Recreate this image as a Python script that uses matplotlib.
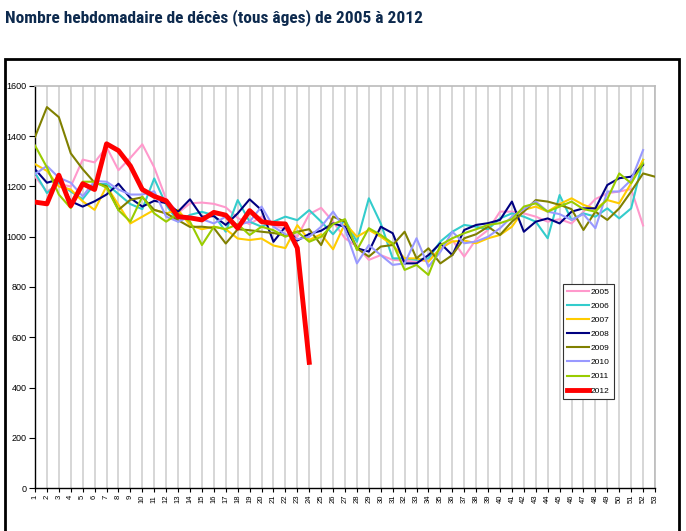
import numpy as np
import matplotlib.pyplot as plt
from matplotlib.patches import Rectangle
from matplotlib import font_manager

# weekly death counts (weeks 1..52, 2009 has 53)
d2005 = [1240, 1180, 1210, 1200, 1307, 1296, 1357, 1265, 1314, 1368, 1276, 1150, 1095,
         1133, 1136, 1131, 1117, 1075, 1050, 1080, 1045, 1030, 1000, 1090, 1115, 1060,
         994, 961, 908, 927, 908, 905, 900, 910, 950, 987, 921, 990, 1027, 1100,
         1100, 1093, 1080, 1060, 1070, 1053, 1100, 1150, 1173, 1180, 1190, 1045]
d2006 = [1255, 1174, 1215, 1180, 1150, 1210, 1210, 1170, 1130, 1110, 1232, 1127, 1060,
         1087, 1099, 1086, 1020, 1146, 1060, 1040, 1060, 1080, 1066, 1106, 1060, 1010,
         1067, 980, 1153, 1053, 914, 914, 908, 914, 981, 1020, 1047, 1040, 1030, 1073,
         1093, 1080, 1060, 994, 1166, 1067, 1093, 1080, 1113, 1073, 1113, 1306]
d2007 = [1289, 1262, 1200, 1188, 1141, 1107, 1201, 1127, 1053, 1080, 1107, 1093, 1107,
         1046, 1030, 1040, 1030, 993, 987, 993, 965, 955, 1046, 987, 1010, 950,
         1053, 1000, 1027, 1000, 967, 914, 914, 901, 954, 981, 985, 974, 994, 1007,
         1040, 1107, 1120, 1100, 1130, 1153, 1127, 1110, 1146, 1133, 1213, 1306]
d2008 = [1269, 1215, 1228, 1141, 1120, 1141, 1168, 1211, 1154, 1120, 1143, 1134, 1100,
         1149, 1080, 1082, 1047, 1093, 1149, 1106, 980, 1040, 985, 1011, 1024, 1053,
         1040, 954, 941, 1040, 1014, 894, 894, 927, 974, 927, 1027, 1047, 1054, 1067,
         1140, 1020, 1060, 1073, 1053, 1100, 1113, 1113, 1206, 1233, 1239, 1286]
d2009 = [1397, 1516, 1476, 1332, 1269, 1215, 1201, 1107, 1147, 1157, 1107, 1093, 1066,
         1039, 1040, 1035, 973, 1030, 1026, 1020, 1015, 1005, 1020, 1030, 967, 1080,
         1060, 954, 921, 961, 967, 1020, 914, 954, 894, 927, 994, 1010, 1040, 1007,
         1060, 1100, 1146, 1140, 1127, 1110, 1027, 1100, 1067, 1113, 1180, 1252, 1239]
d2010 = [1249, 1282, 1235, 1215, 1161, 1222, 1219, 1188, 1168, 1168, 1181, 1080, 1060,
         1080, 1070, 1053, 1080, 1046, 1060, 1120, 1040, 1010, 990, 1000, 1040, 1100,
         1030, 894, 967, 927, 888, 894, 994, 881, 940, 1020, 974, 981, 1000, 1034,
         1080, 1110, 1140, 1100, 1090, 1067, 1090, 1034, 1180, 1180, 1226, 1345]
d2011 = [1363, 1276, 1168, 1114, 1219, 1219, 1195, 1106, 1060, 1160, 1093, 1060, 1093,
         1060, 967, 1040, 1030, 1050, 1007, 1040, 1026, 1000, 1020, 980, 1000, 1050,
         1070, 947, 1034, 1007, 974, 868, 888, 848, 967, 994, 1014, 1030, 1047, 1054,
         1070, 1120, 1133, 1100, 1120, 1140, 1110, 1100, 1150, 1252, 1213, 1292]
d2012 = [1138, 1131, 1245, 1123, 1211, 1188, 1370, 1343, 1282, 1188, 1161, 1143, 1080,
         1075, 1067, 1097, 1086, 1034, 1104, 1060, 1053, 1051, 955, 500]

years = ['2005', '2006', '2007', '2008', '2009', '2010', '2011', '2012']
series = [d2005, d2006, d2007, d2008, d2009, d2010, d2011, d2012]
colors = ['#ff99cc', '#33cccc', '#ffcc00', '#000080', '#808000', '#9999ff', '#99cc00', '#ff0000']
weeks = list(range(1, 54))
yticks = [0, 200, 400, 600, 800, 1000, 1200, 1400, 1600]

TITLE = 'Nombre hebdomadaire de décès (tous âges) de 2005 à 2012'


def title_font():
    # prefer a narrow face if one is installed, else shrink the regular one
    names = {f.name for f in font_manager.fontManager.ttflist}
    for cand in ['Liberation Sans Narrow', 'Roboto Condensed', 'Open Sans Condensed',
                 'DejaVu Sans Condensed']:
        if cand in names:
            return cand, 12.5
    return 'Liberation Sans', 10.8


def main():
    plt.rcParams['font.family'] = ['Liberation Sans', 'DejaVu Sans']
    fig = plt.figure(figsize=(6.86, 5.31), dpi=100)

    # title and outer frame
    fam, size = title_font()
    fig.text(5 / 686, 1 - 18 / 531, TITLE,
             family=[fam, 'DejaVu Sans'], fontsize=size, fontweight='bold',
             color='#0d2a4e', va='center', ha='left')
    fig.patches.append(Rectangle((5 / 686, -0.1), 674 / 686, 1.1 - 59 / 531,
                                 transform=fig.transFigure, fill=False,
                                 edgecolor='black', lw=2, clip_on=False))

    ax = fig.add_axes([35 / 686, 43 / 531, 620 / 686, 402 / 531])
    for name, vals, col in zip(years, series, colors):
        lw = 3.5 if name == '2012' else 1.5
        ax.plot(weeks[:len(vals)], vals, color=col, lw=lw, label=name, zorder=3)

    ax.set_xlim(1, 53)
    ax.set_ylim(0, 1600)
    ax.set_xticks(weeks)
    ax.set_xticklabels([str(w) for w in weeks], rotation=90, fontsize=5.5)
    ax.set_yticks(yticks)
    ax.set_yticklabels([str(v) for v in yticks], fontsize=6.5)
    ax.tick_params(axis='x', length=3, pad=2, width=0.8)
    ax.tick_params(axis='y', length=4, pad=2, width=0.8)
    ax.grid(axis='x', color='#d0d0d0', lw=1.2, zorder=0)
    for s in ['top', 'right']:
        ax.spines[s].set_color('#bbbbbb')
        ax.spines[s].set_linewidth(1.2)
    for s in ['left', 'bottom']:
        ax.spines[s].set_color('black')
        ax.spines[s].set_linewidth(1)

    leg = ax.legend(loc='upper left', bbox_to_anchor=(563 / 686, 1 - 284 / 531),
                    bbox_transform=fig.transFigure, fontsize=6, handlelength=2.6,
                    handletextpad=0.2, labelspacing=0.75, borderpad=0.5,
                    borderaxespad=0, fancybox=False, framealpha=1)
    leg.get_frame().set_edgecolor('#333333')
    leg.get_frame().set_linewidth(0.8)

    fig.savefig('out.png', dpi=100)


if __name__ == '__main__':
    main()
